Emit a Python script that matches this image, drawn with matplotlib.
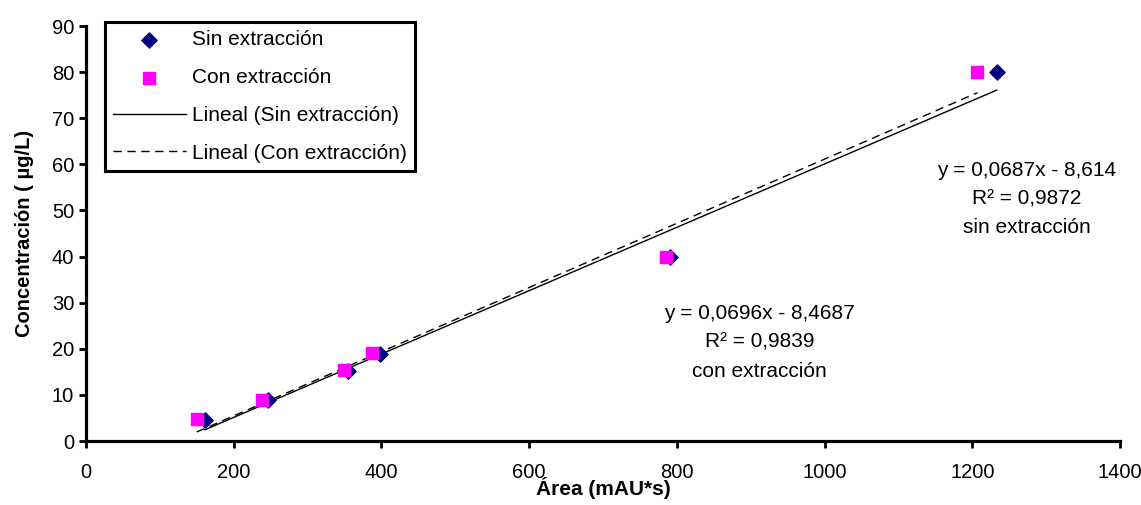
import numpy as np
import matplotlib.pyplot as plt

plt.rcParams['font.family'] = ['Liberation Sans', 'DejaVu Sans']

# Datos
area_sin = [161, 246, 355, 398, 791, 1233]
conc_sin = [4.6, 8.9, 15.1, 18.8, 40, 80]
area_con = [150, 238, 349, 387, 785, 1207]
conc_con = [4.8, 9.0, 15.3, 19.0, 40, 80]

# Coeficientes de las líneas de tendencia (del gráfico)
pend_sin, orig_sin = 0.0687, -8.614
pend_con, orig_con = 0.0696, -8.4687

eq_sin = "y = 0,0687x - 8,614\nR² = 0,9872\nsin extracción"
eq_con = "y = 0,0696x - 8,4687\nR² = 0,9839\ncon extracción"

fs = 14.5

fig = plt.figure(figsize=(11.41, 5.05), dpi=100)
ax = fig.add_axes([0.0754, 0.1267, 0.9062, 0.8218])

ax.scatter(area_sin, conc_sin, marker="D", s=60, color="#000080", zorder=3,
           label="Sin extracción")
ax.scatter(area_con, conc_con, marker="s", s=70, color="#FF00FF", zorder=3,
           label="Con extracción")

xs = np.array([min(area_sin), max(area_sin)])
ax.plot(xs, pend_sin * xs + orig_sin, color="black", lw=1,
        label="Lineal (Sin extracción)")
xc = np.array([min(area_con), max(area_con)])
ax.plot(xc, pend_con * xc + orig_con, color="black", lw=1, ls=(0, (6, 4)),
        label="Lineal (Con extracción)")

ax.text(1274, 52.5, eq_sin, ha="center", va="center", fontsize=fs + 0.5,
        linespacing=1.65)
ax.text(912, 21.4, eq_con, ha="center", va="center", fontsize=fs + 0.5,
        linespacing=1.65)

ax.set_xlim(0, 1400)
ax.set_ylim(0, 90)
ax.set_xticks(range(0, 1401, 200))
ax.set_yticks(range(0, 91, 10))
ax.tick_params(labelsize=fs, width=2, length=5, direction="out")
ax.tick_params(axis="x", pad=11)
for s in ["top", "right"]:
    ax.spines[s].set_visible(False)
for s in ["left", "bottom"]:
    ax.spines[s].set_linewidth(2.3)

ax.set_xlabel("Área (mAU*s)", fontsize=fs + 0.5, fontweight="bold", labelpad=-4)
ax.set_ylabel("Concentración ( µg/L)", fontsize=fs, fontweight="bold", labelpad=13)

leg = ax.legend(loc="upper left", bbox_to_anchor=(0.018, 1.0096), fontsize=fs + 0.5,
                frameon=True, fancybox=False, edgecolor="black", framealpha=1,
                handlelength=3.5, handletextpad=0.3, borderpad=0.4,
                borderaxespad=0, labelspacing=0.9, scatterpoints=1)
leg.get_frame().set_linewidth(2.2)

fig.savefig("out.png", dpi=100)
